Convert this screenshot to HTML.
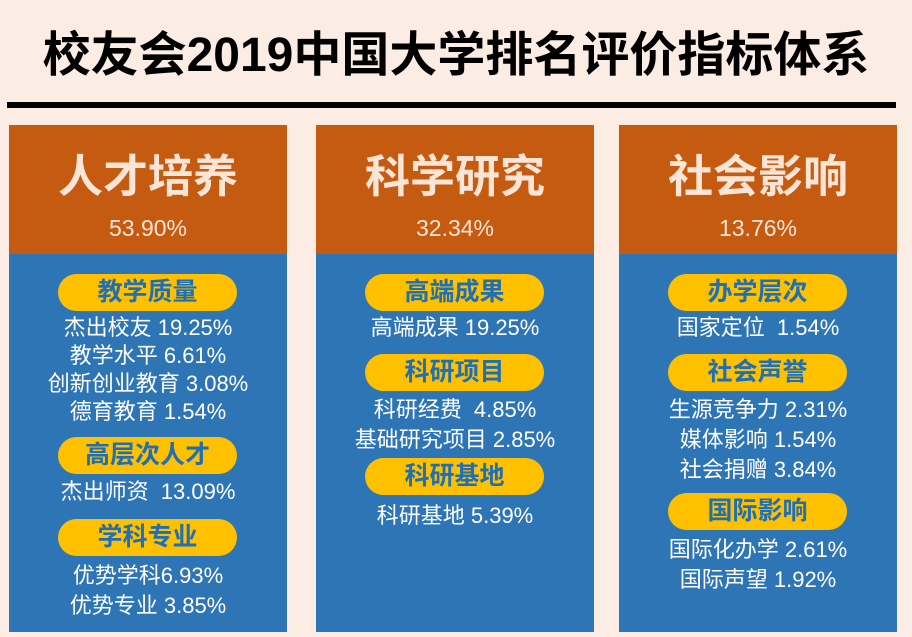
<!DOCTYPE html>
<html><head><meta charset="utf-8"><style>
*{margin:0;padding:0;box-sizing:border-box}
body{width:912px;height:637px;background:#fbede4;position:relative;overflow:hidden;font-family:"Liberation Sans","Noto Sans CJK SC",sans-serif}
.title{position:absolute;left:0;width:912px;top:24px;text-align:center;font-size:48px;font-weight:bold;color:#000;line-height:64px;white-space:nowrap}
.rule{position:absolute;left:7px;width:889px;top:102px;height:6px;background:#000}
.col{position:absolute;top:125px;width:278px;height:507px;background:#2e75b6}
.hd{position:absolute;left:0;top:0;width:100%;height:129px;background:#c55a11;color:#fbe5d6;text-align:center}
.hd .n{position:absolute;top:24px;width:100%;font-size:45px;font-weight:bold;line-height:56px}
.hd .p{position:absolute;top:88px;width:100%;font-size:23px;line-height:30px}
.pill{position:absolute;left:49px;width:179px;height:37px;border-radius:19px;background:#ffc000;color:#1f6fb5;font-weight:bold;font-size:25px;line-height:37px;text-align:center}
.t{position:absolute;left:0;width:100%;text-align:center;color:#fff;font-size:22px;line-height:28px;white-space:nowrap}
</style></head><body>
<div class="title">校友会2019中国大学排名评价指标体系</div>
<div class="rule"></div>

<div class="col" style="left:9px">
 <div class="hd"><div class="n">人才培养</div><div class="p">53.90%</div></div>
 <div class="pill" style="top:149px">教学质量</div>
 <div class="t" style="top:189px">杰出校友 19.25%</div>
 <div class="t" style="top:217px">教学水平 6.61%</div>
 <div class="t" style="top:245px">创新创业教育 3.08%</div>
 <div class="t" style="top:273px">德育教育 1.54%</div>
 <div class="pill" style="top:312px">高层次人才</div>
 <div class="t" style="top:353px">杰出师资&nbsp; 13.09%</div>
 <div class="pill" style="top:394px">学科专业</div>
 <div class="t" style="top:437px">优势学科6.93%</div>
 <div class="t" style="top:467px">优势专业 3.85%</div>
</div>

<div class="col" style="left:316px">
 <div class="hd"><div class="n">科学研究</div><div class="p">32.34%</div></div>
 <div class="pill" style="top:149px">高端成果</div>
 <div class="t" style="top:189px">高端成果 19.25%</div>
 <div class="pill" style="top:229px">科研项目</div>
 <div class="t" style="top:271px">科研经费&nbsp; 4.85%</div>
 <div class="t" style="top:301px">基础研究项目 2.85%</div>
 <div class="pill" style="top:333px">科研基地</div>
 <div class="t" style="top:377px">科研基地 5.39%</div>
</div>

<div class="col" style="left:619px">
 <div class="hd"><div class="n">社会影响</div><div class="p">13.76%</div></div>
 <div class="pill" style="top:149px">办学层次</div>
 <div class="t" style="top:189px">国家定位&nbsp; 1.54%</div>
 <div class="pill" style="top:229px">社会声誉</div>
 <div class="t" style="top:271px">生源竞争力 2.31%</div>
 <div class="t" style="top:301px">媒体影响 1.54%</div>
 <div class="t" style="top:331px">社会捐赠 3.84%</div>
 <div class="pill" style="top:368px">国际影响</div>
 <div class="t" style="top:411px">国际化办学 2.61%</div>
 <div class="t" style="top:441px">国际声望 1.92%</div>
</div>
</body></html>
